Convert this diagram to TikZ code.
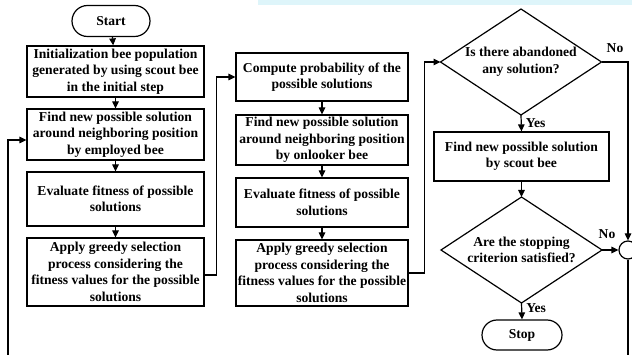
\documentclass[tikz,border=0pt]{standalone}
\usepackage{fontspec}
\setmainfont{Liberation Serif}
\usetikzlibrary{arrows.meta,shapes.misc,calc}
\definecolor{band}{RGB}{222,245,250}
\begin{document}
\begin{tikzpicture}[x=1pt,y=-1pt,
  every node/.style={font=\bfseries\fontsize{13.6}{16.5}\selectfont},
  box/.style={draw,line width=1.2pt,rectangle,align=center,inner sep=0pt},
  term/.style={draw,line width=1.2pt,rounded rectangle,align=center,inner sep=0pt,minimum width=78pt,minimum height=31pt},
  dtext/.style={align=center,inner sep=0pt},
  arr/.style={line width=1.2pt,-{Triangle[length=7pt,width=6.5pt]}},
  ln/.style={line width=1.2pt},
  lab/.style={inner sep=1pt}]
\useasboundingbox (0,0) rectangle (632,355);
\fill[band] (258,0) rectangle (632,5);
% column 1
\node[term] (start) at (111,21) {Start};
\node[box,minimum width=177pt,minimum height=51pt] (b1) at (115.5,71.5) {Initialization bee population\\generated by using scout bee\\in the initial step};
\node[box,minimum width=177pt,minimum height=51pt] (b2) at (115.5,134.5) {Find new possible solution\\around neighboring position\\by employed bee};
\node[box,minimum width=177pt,minimum height=54pt] (b3) at (115.5,199) {Evaluate fitness of possible\\solutions};
\node[box,minimum width=177pt,minimum height=68pt] (b4) at (115.5,272) {Apply greedy selection\\process considering the\\fitness values for the possible\\solutions};
% column 2
\node[box,minimum width=172pt,minimum height=48pt] (b5) at (322,77) {Compute probability of the\\possible solutions};
\node[box,minimum width=172pt,minimum height=50pt] (b6) at (322,140) {Find new possible solution\\around neighboring position\\by onlooker bee};
\node[box,minimum width=172pt,minimum height=49pt] (b7) at (322,202.5) {Evaluate fitness of possible\\solutions};
\node[box,minimum width=172pt,minimum height=66pt] (b8) at (322,273) {Apply greedy selection\\process considering the\\fitness values for the possible\\solutions};
% column 3
\coordinate (d1n) at (521,9);
\coordinate (d1s) at (521,115);
\coordinate (d1w) at (440.5,62);
\coordinate (d1e) at (601.5,62);
\draw[ln] (d1n) -- (d1e) -- (d1s) -- (d1w) -- cycle;
\node[dtext] (d1) at (521,62) {Is there abandoned\\any solution?};
\node[box,minimum width=175pt,minimum height=49pt] (b9) at (521.5,156.5) {Find new possible solution\\by scout bee};
\coordinate (d2n) at (521.5,197);
\coordinate (d2s) at (521.5,303);
\coordinate (d2w) at (441,250);
\coordinate (d2e) at (602,250);
\draw[ln] (d2n) -- (d2e) -- (d2s) -- (d2w) -- cycle;
\node[dtext] (d2) at (521.5,250) {Are the stopping\\criterion satisfied?};
\node[term,minimum width=80pt,minimum height=30pt] (stop) at (522,335) {Stop};
\node[draw,circle,line width=1.2pt,minimum size=18pt,inner sep=0pt] (c) at (628,250) {};
% connectors
\draw[arr] (start) -- (b1);
\draw[arr] (b1) -- (b2);
\draw[arr] (b2) -- (b3);
\draw[arr] (b3) -- (b4);
\coordinate (lb) at (8,355);
\draw[arr] (lb) |- ([yshift=-5.5pt]b2.west);
\draw[arr] ([yshift=-3pt]b4.east) -- ++(12,0) |- (b5.west);
\draw[arr] (b5) -- (b6);
\draw[arr] (b6) -- (b7);
\draw[arr] (b7) -- (b8);
\draw[arr] (b8.east) -- ++(16,0) |- (d1w);
\draw[arr] (d1s) -- (b9.north) node[lab,pos=0.5,anchor=west,xshift=3pt] {Yes};
\draw[arr] (b9.south -| d2n) -- (d2n);
\draw[arr] (d2s) -- (stop.north) node[lab,pos=0.3,anchor=west,xshift=3pt] {Yes};
\draw[arr] (d1e) -- (d1e -| c.north) -- (c.north);
\node[lab] (no1) at (615,48) {No};
\draw[arr] (d2e) -- (c.west);
\node[lab] (no2) at (607,234) {No};
\coordinate (cb) at (628,355);
\draw[ln] (c.south) -- (cb);
\end{tikzpicture}
\end{document}
